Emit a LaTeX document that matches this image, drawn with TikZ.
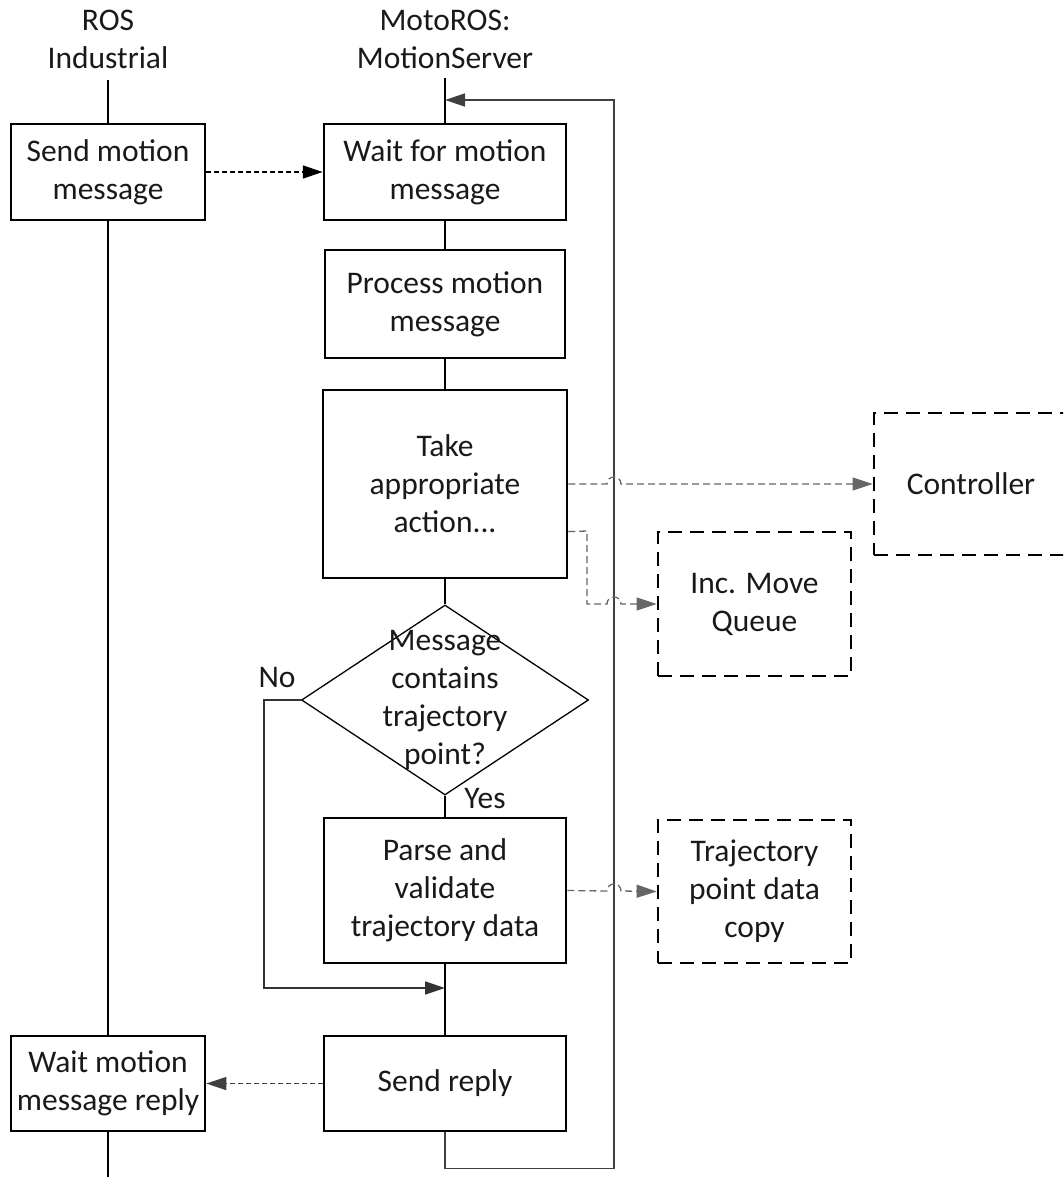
\documentclass[tikz,border=0pt]{standalone}
\usepackage{fontspec}
\setmainfont{Carlito}
\usetikzlibrary{arrows.meta,shapes.geometric,calc}
\begin{document}
\begin{tikzpicture}[x=1pt,y=-1pt,
  every node/.style={font=\fontsize{31.5}{38}\selectfont, align=center, inner sep=0pt, text=black!90},
  procbox/.style={draw, line width=2.5pt, rectangle},
  extbox/.style={draw, line width=2.7pt, dash pattern=on 14pt off 8pt, rectangle},
  life/.style={line width=2pt},
  tip/.style={-{Triangle[length=20pt,width=13pt]}},
  msg/.style={tip, line width=1.3pt, dash pattern=on 5pt off 3pt},
  ext/.style={tip, line width=1.3pt, draw=black!60, dash pattern=on 7pt off 4pt},
  loopline/.style={tip, line width=1.5pt, draw=black!75},
]
\useasboundingbox (0,0) rectangle (1063,1177);
\clip (0,0) rectangle (1063,1177);

% lane titles
\node (ros) at (108,39) {ROS\\Industrial};
\node (moto) at (445,39) {MotoROS:\\MotionServer};

% ROS Industrial lane
\node[procbox, minimum width=194pt, minimum height=96pt] (sendm) at (108,172) {Send motion\\message};
\node[procbox, minimum width=194pt, minimum height=95pt] (waitr) at (108,1083.5) {Wait motion\\message reply};
\coordinate (rtop) at (108,80);
\coordinate (rbot) at (108,1180);

% MotionServer lane
\node[procbox, minimum width=242pt, minimum height=96pt] (waitm) at (445,172) {Wait for motion\\message};
\node[procbox, minimum width=240pt, minimum height=108pt] (proc) at (445,304) {Process motion\\message};
\node[procbox, minimum width=244pt, minimum height=188pt] (take) at (445,484) {Take\\appropriate\\action...};
\node[diamond, draw, line width=1.3pt, minimum width=287pt, minimum height=190pt] (dec) at (445,700) {};
\node (dectxt) at (dec.center) {Message\\contains\\trajectory\\point?};
\node[procbox, minimum width=242pt, minimum height=145pt] (parse) at (445,890.5) {Parse and\\validate\\trajectory data};
\node[procbox, minimum width=242pt, minimum height=95pt] (reply) at (445,1083.5) {Send reply};
\coordinate (mtop) at (445,78);
\coordinate (entry) at (445,100);
\coordinate (loopx) at (614,100);
\coordinate (join) at (445,988);

% external targets
\node[extbox, minimum width=194pt, minimum height=142pt] (ctrl) at (971,484) {Controller};
\node[extbox, minimum width=193pt, minimum height=144pt] (inc) at (754.5,604) {Inc. Move\\Queue};
\node[extbox, minimum width=193pt, minimum height=143pt] (traj) at (754.5,891.5) {Trajectory\\point data\\copy};

% branch labels
\node (no) at (277,677) {No};
\node (yes) at (485,799) {Yes};

% lifelines
\draw[life] (rtop) -- (sendm.north);
\draw[life] (sendm.south) -- (waitr.north);
\draw[life] (waitr.south) -- (rbot);
\draw[life] (mtop) -- (waitm.north);
\draw[life] (waitm.south) -- (proc.north);
\draw[life] (proc.south) -- (take.north);
\draw[life] (take.south) -- (dec.north);
\draw[life] (dec.south) -- (parse.north);
\draw[life] (parse.south) -- (reply.north);

% return loop to the top of the server lane
\draw[loopline] (reply.south) -- ++(0,36) -| (loopx) -- (entry);

% "No" branch bypassing the parse step
\draw[tip, line width=1.5pt, draw=black!80] (dec.west) -- ++(-37,0) |- (join);

% messages between lanes
\draw[msg] (sendm.east) -- (waitm.west);
\draw[msg, draw=black!75] (reply.west) -- (waitr.east);

% outputs of the server, hopping over the loop line
\draw[ext] (take.east) -- (607,484) .. controls (607,474.7) and (621,474.7) .. (621,484) -- (ctrl.west);
\draw[ext] ($(take.south east)!0.25!(take.north east)$) -- (587,531) -- (587,604) -- (607,604)
  .. controls (607,594.7) and (621,594.7) .. (621,604) -- (inc.west);
\draw[ext] (parse.east) -- (607,891) .. controls (607,881.7) and (621,881.7) .. (621,891) -- (traj.west);
\end{tikzpicture}
\end{document}
